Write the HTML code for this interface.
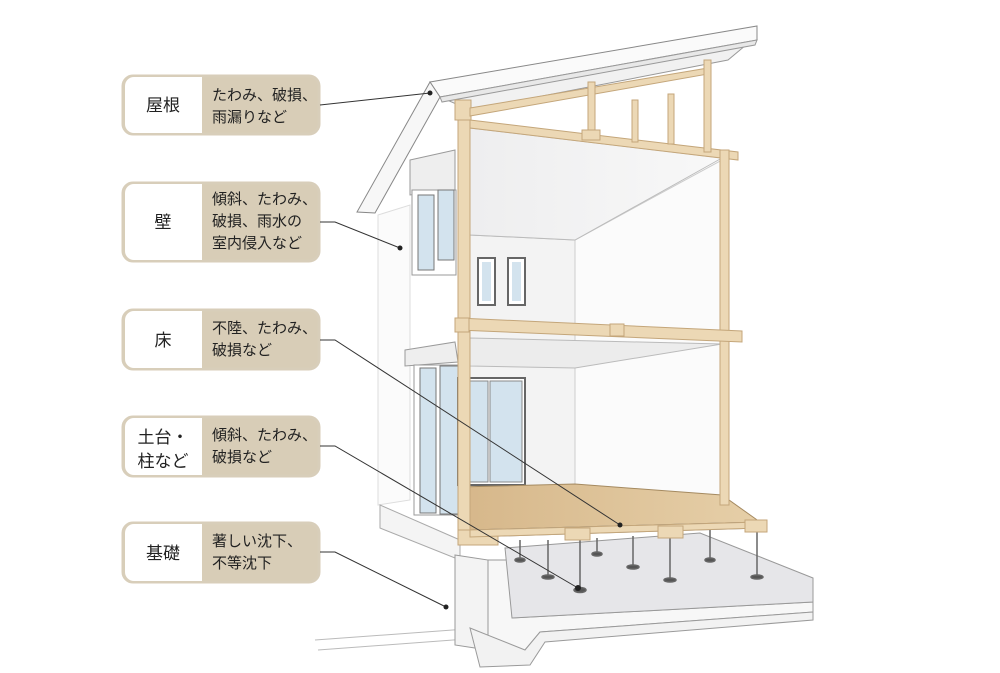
<!DOCTYPE html>
<html><head><meta charset="utf-8"><style>
body{margin:0;background:#fff;}
svg{display:block}
.t{font-family:"Liberation Sans","Noto Sans CJK JP",sans-serif;}
</style></head><body>
<svg width="1000" height="673" viewBox="0 0 1000 673" xmlns="http://www.w3.org/2000/svg">
<defs>
<linearGradient id="fl" x1="0" x2="1"><stop offset="0" stop-color="#d6b78a"/><stop offset="1" stop-color="#e6cfa8"/></linearGradient>
<linearGradient id="cg" x1="0" x2="1"><stop offset="0" stop-color="#eeeeef"/><stop offset="1" stop-color="#f8f8f8"/></linearGradient>
</defs>
<g stroke="#9a9a9a" stroke-width="1" fill="#fff">
<polygon points="378,215 410,205 410,500 378,505" fill="#fbfbfb" stroke="#ddd"/>
<polygon points="380,505 460,540 460,560 380,528" fill="#f4f4f4" stroke="#aaa"/>
<line x1="315" y1="640" x2="480" y2="628" stroke="#bbb"/>
<line x1="318" y1="650" x2="480" y2="638" stroke="#bbb"/>
<polygon points="455,555 488,560 488,650 455,645" fill="#f3f3f3"/>
<polygon points="488,560 510,560 512,618 813,602 813,612 540,632 525,650 488,650" fill="#f7f7f7"/>
<polygon points="470,628 525,650 540,632 813,612 813,620 545,642 530,665 480,667" fill="#f2f2f2"/>
<polygon points="505,548 700,533 813,578 813,602 512,618" fill="#e6e6e9" stroke="#999"/>
<polygon points="470,235 575,240 575,486 470,488" fill="#f3f3f3" stroke="#bbb"/>
<polygon points="575,240 722,160 722,500 575,486" fill="#fbfbfb" stroke="#ccc"/>
<polygon points="470,128 722,158 575,240 470,235" fill="url(#cg)" stroke="#bbb"/>
<polygon points="470,338 722,344 575,368 470,366" fill="#ececec" stroke="#bbb"/>
<polygon points="440,97 752,40 728,60 470,110" fill="#f1f1f1" stroke="#999"/>
<polygon points="430,82 757,26 757,40 440,97" fill="#fafafa" stroke="#888"/>
<polygon points="440,97 757,40 755,45 442,102" fill="#e8e8e8" stroke="#999"/>
<polygon points="430,82 440,97 375,213 357,212" fill="#f7f7f7" stroke="#888"/>
<polygon points="410,160 455,150 455,190 410,195" fill="#eee"/>
<rect x="412" y="190" width="44" height="85" fill="#fff"/>
<rect x="418" y="195" width="16" height="75" fill="#d3e3ee" stroke="#777"/>
<rect x="438" y="190" width="16" height="70" fill="#d3e3ee" stroke="#777"/>
<rect x="478" y="258" width="17" height="47" fill="#fff" stroke="#666" stroke-width="2"/>
<rect x="482" y="262" width="9" height="39" fill="#d3e3ee" stroke="none"/>
<rect x="508" y="258" width="17" height="47" fill="#fff" stroke="#666" stroke-width="2"/>
<rect x="512" y="262" width="9" height="39" fill="#d3e3ee" stroke="none"/>
<polygon points="405,350 455,342 458,362 405,366" fill="#eee"/>
<rect x="414" y="365" width="46" height="150" fill="#fff"/>
<rect x="420" y="368" width="16" height="145" fill="#d3e3ee" stroke="#777"/>
<rect x="440" y="366" width="18" height="148" fill="#d3e3ee" stroke="#777"/>
<rect x="458" y="378" width="67" height="107" fill="#fff" stroke="#666" stroke-width="2"/>
<rect x="461" y="381" width="27" height="101" fill="#d3e3ee" stroke="#888"/>
<rect x="490" y="381" width="32" height="101" fill="#d3e3ee" stroke="#888"/>
<polygon points="458,487 575,484 722,495 760,522 470,530" fill="url(#fl)" stroke="#a58a60"/>
<polygon points="470,530 760,522 760,528 470,537" fill="#eee"/>
</g>
<g stroke="#666" stroke-width="1.5" fill="#555">
<line x1="520" y1="540" x2="520" y2="558"/><line x1="548" y1="540" x2="548" y2="575"/><line x1="580" y1="540" x2="580" y2="588"/>
<line x1="597" y1="538" x2="597" y2="552"/><line x1="633" y1="536" x2="633" y2="565"/><line x1="670" y1="535" x2="670" y2="578"/>
<line x1="710" y1="530" x2="710" y2="558"/><line x1="757" y1="530" x2="757" y2="575"/>
<ellipse cx="520" cy="560" rx="5" ry="2"/><ellipse cx="548" cy="577" rx="6" ry="2"/><ellipse cx="580" cy="590" rx="6" ry="2.5"/>
<ellipse cx="597" cy="554" rx="5" ry="2"/><ellipse cx="633" cy="567" rx="6" ry="2"/><ellipse cx="670" cy="580" rx="6" ry="2"/>
<ellipse cx="710" cy="560" rx="5" ry="2"/><ellipse cx="757" cy="577" rx="6" ry="2"/>
</g>
<g fill="#ecd8b5" stroke="#c4a67a" stroke-width="1">
<rect x="458" y="100" width="12" height="445"/>
<rect x="455" y="100" width="16" height="20"/>
<polygon points="470,108 708,68 708,74 470,116"/>
<polygon points="470,120 738,152 738,160 470,128"/>
<rect x="588" y="82" width="7" height="52"/>
<rect x="704" y="60" width="7" height="92"/>
<rect x="632" y="100" width="6" height="42"/>
<rect x="668" y="94" width="6" height="50"/>
<rect x="582" y="130" width="18" height="10"/>
<rect x="720" y="150" width="9" height="355"/>
<polygon points="458,318 742,331 742,342 458,330"/>
<rect x="455" y="318" width="14" height="14"/><rect x="610" y="324" width="14" height="12"/>
<rect x="458" y="530" width="40" height="15"/>
<polygon points="470,530 760,522 760,528 470,537"/>
<rect x="565" y="528" width="25" height="12"/><rect x="658" y="526" width="25" height="12"/><rect x="745" y="520" width="22" height="12"/>
</g>
<g class="t">
<g stroke="#d8ceba" stroke-width="3">
<rect x="123" y="76" width="196" height="58" rx="10" fill="#d8cdb7"/>
<rect x="123" y="183" width="196" height="78" rx="10" fill="#d8cdb7"/>
<rect x="123" y="310" width="196" height="59" rx="10" fill="#d8cdb7"/>
<rect x="123" y="417" width="196" height="59" rx="10" fill="#d8cdb7"/>
<rect x="123" y="523" width="196" height="59" rx="10" fill="#d8cdb7"/>
</g>
<g fill="#fff">
<path d="M202,77 H134 a9,9 0 0 0 -9,9 V124 a9,9 0 0 0 9,9 H202Z"/>
<path d="M202,184 H134 a9,9 0 0 0 -9,9 V251 a9,9 0 0 0 9,9 H202Z"/>
<path d="M202,311 H134 a9,9 0 0 0 -9,9 V359 a9,9 0 0 0 9,9 H202Z"/>
<path d="M202,418 H134 a9,9 0 0 0 -9,9 V466 a9,9 0 0 0 9,9 H202Z"/>
<path d="M202,524 H134 a9,9 0 0 0 -9,9 V572 a9,9 0 0 0 9,9 H202Z"/>
</g>
<g font-size="17" fill="#222" text-anchor="middle">
<text x="163" y="111">屋根</text>
<text x="163" y="228">壁</text>
<text x="163" y="346">床</text>
<text x="163" y="443">土台・</text>
<text x="163" y="467">柱など</text>
<text x="163" y="559">基礎</text>
</g>
<g font-size="15" fill="#222">
<text x="212" y="100">たわみ、破損、</text><text x="212" y="122">雨漏りなど</text>
<text x="212" y="204">傾斜、たわみ、</text><text x="212" y="226">破損、雨水の</text><text x="212" y="248">室内侵入など</text>
<text x="212" y="333">不陸、たわみ、</text><text x="212" y="355">破損など</text>
<text x="212" y="440">傾斜、たわみ、</text><text x="212" y="462">破損など</text>
<text x="212" y="546">著しい沈下、</text><text x="212" y="568">不等沈下</text>
</g>
</g>
<g stroke="#333" stroke-width="1" fill="none">
<polyline points="320,105 430,93"/>
<polyline points="320,222 335,222 400,248"/>
<polyline points="320,340 335,340 620,525"/>
<polyline points="320,446 335,446 578,588"/>
<polyline points="320,552 335,552 446,607"/>
</g>
<g fill="#222">
<circle cx="430" cy="93" r="2.5"/><circle cx="400" cy="248" r="2.5"/><circle cx="620" cy="525" r="2.5"/><circle cx="578" cy="588" r="3"/><circle cx="446" cy="607" r="2.5"/>
</g>
</svg>
</body></html>
